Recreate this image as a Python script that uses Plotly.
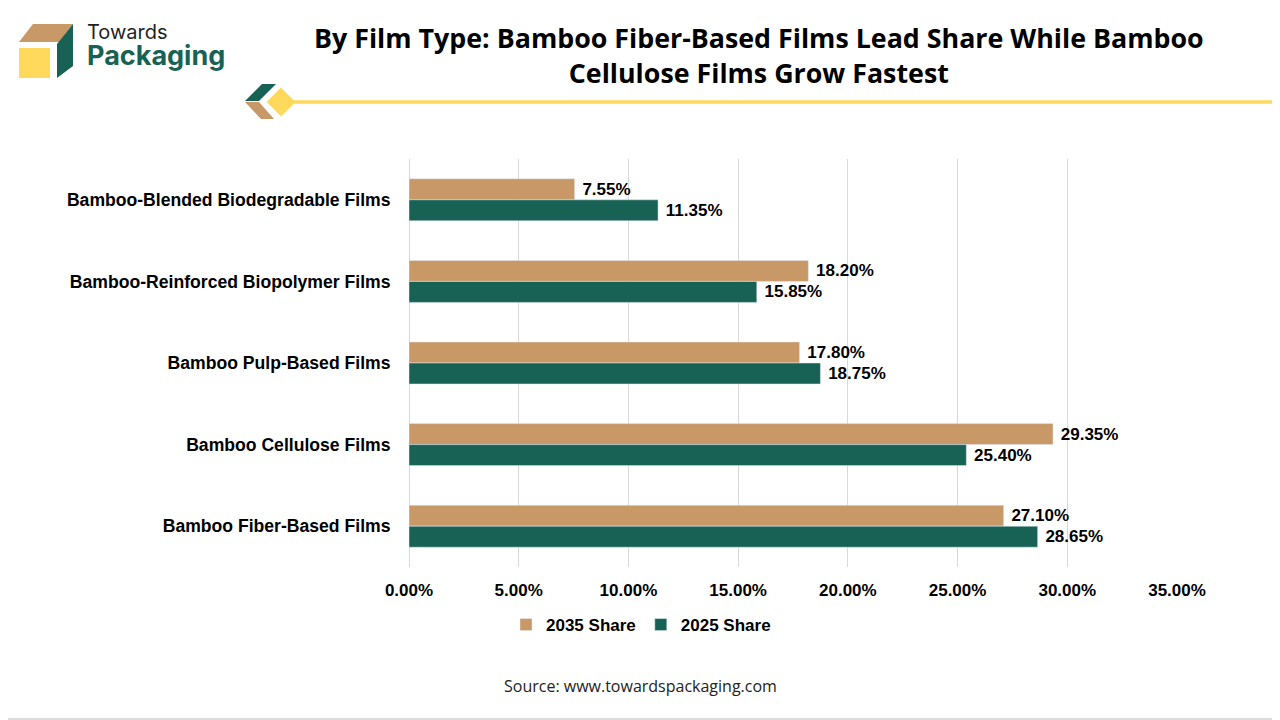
import plotly.graph_objects as go

# values
film_types = [
    "Bamboo-Blended Biodegradable Films",
    "Bamboo-Reinforced Biopolymer Films",
    "Bamboo Pulp-Based Films",
    "Bamboo Cellulose Films",
    "Bamboo Fiber-Based Films",
]
share_2035 = [7.55, 18.20, 17.80, 29.35, 27.10]
share_2025 = [11.35, 15.85, 18.75, 25.40, 28.65]
x_ticks = [0, 5, 10, 15, 20, 25, 30, 35]
x_tick_labels = [f"{v:.2f}%" for v in x_ticks]

# the page body has an 8px margin, so the figure is made 8px smaller
# and all layout positions below are given in page pixels
OFF = 8
W, H = 1280 - OFF, 720 - OFF
TAN = "#C89866"
TEAL = "#176255"
YELLOW = "#FED95B"
FONT = "Liberation Sans"


def px(x):
    return (x - OFF) / W


def py(y):
    return 1 - (y - OFF) / H


def path(points):
    # page pixel points -> paper path
    return "M " + " L ".join(f"{px(x):.5f},{py(y):.5f}" for x, y in points) + " Z"


fig = go.Figure()

label_font = dict(family=FONT, size=17, color="black", weight="bold")
fig.add_trace(go.Bar(
    y=film_types, x=share_2035, orientation="h", name="2035 Share",
    marker_color=TAN,
    text=[f"\u00a0{v:.2f}%" for v in share_2035], textposition="outside",
    textfont=label_font, cliponaxis=False,
))
fig.add_trace(go.Bar(
    y=film_types, x=share_2025, orientation="h", name="2025 Share",
    marker_color=TEAL,
    text=[f"\u00a0{v:.2f}%" for v in share_2025], textposition="outside",
    textfont=label_font, cliponaxis=False,
))

shapes = [
    # right and bottom edge of the frame
    dict(type="line", xref="paper", yref="paper", x0=px(1278.5), x1=px(1278.5),
         y0=py(719), y1=1, line=dict(color="#D0D0D0", width=1.5)),
    dict(type="line", xref="paper", yref="paper", x0=0, x1=px(1279),
         y0=py(719), y1=py(719), line=dict(color="#D0D0D0", width=1.5)),
    # logo cube
    dict(type="path", xref="paper", yref="paper",
         path=path([(33, 24), (73, 24), (59, 42), (19, 42)]),
         fillcolor=TAN, line=dict(width=0)),
    dict(type="path", xref="paper", yref="paper",
         path=path([(73, 24), (73, 66), (57, 78), (57, 44)]),
         fillcolor=TEAL, line=dict(width=0)),
    dict(type="path", xref="paper", yref="paper",
         path=path([(19, 48), (50, 48), (50, 78), (19, 78)]),
         fillcolor=YELLOW, line=dict(width=0)),
    # header rule
    dict(type="line", xref="paper", yref="paper",
         x0=px(288), x1=px(1280), y0=py(102), y1=py(102),
         line=dict(color=YELLOW, width=3.5)),
    dict(type="path", xref="paper", yref="paper",
         path=path([(245, 101), (262, 84), (276, 84), (259, 101)]),
         fillcolor=TEAL, line=dict(width=0)),
    dict(type="path", xref="paper", yref="paper",
         path=path([(245, 102), (259, 102), (274, 119), (261, 119)]),
         fillcolor=TAN, line=dict(width=0)),
    dict(type="path", xref="paper", yref="paper",
         path=path([(281, 89), (294, 102), (281, 115), (268, 102)]),
         fillcolor=YELLOW, line=dict(color=YELLOW, width=2)),
]

annotations = [
    dict(text=("Towards<br><span style='font-size:27px;color:" + TEAL + "'>"
               "<b>Packaging</b></span>"),
         x=px(85), y=py(46), xref="paper", yref="paper", align="left",
         xanchor="left", yanchor="middle", showarrow=False,
         font=dict(family="Inter", size=20, color="#1f1f1f")),
    dict(text="<b>By Film Type: Bamboo Fiber-Based Films Lead Share While Bamboo"
              "<br>Cellulose Films Grow Fastest</b>",
         x=px(759), y=py(55), xref="paper", yref="paper",
         xanchor="center", yanchor="middle", showarrow=False,
         font=dict(family="Open Sans", size=26.8, color="black")),
    dict(text="Source: www.towardspackaging.com", x=px(640), y=py(686),
         xref="paper", yref="paper", xanchor="center", yanchor="middle",
         showarrow=False, font=dict(family="Open Sans", size=16, color="#222")),
]

fig.update_layout(
    width=W, height=H,
    margin=dict(l=0, r=0, t=0, b=0),
    paper_bgcolor="white", plot_bgcolor="white",
    barmode="group", bargap=0.485, bargroupgap=0,
    font=dict(family=FONT, color="black"),
    showlegend=True,
    legend=dict(orientation="h", x=px(641), y=py(625), xanchor="center",
                yanchor="middle", font=dict(family=FONT, size=17, weight="bold"),
                itemwidth=30, traceorder="normal"),
    xaxis=dict(
        domain=[px(409), px(1177)], range=[0, 35],
        tickvals=x_ticks, ticktext=x_tick_labels,
        showgrid=True, gridcolor="#D9D9D9", gridwidth=1,
        zeroline=True, zerolinecolor="#D9D9D9", zerolinewidth=1,
        showline=False, ticks="outside", ticklen=8, tickcolor="rgba(0,0,0,0)",
        tickfont=dict(family=FONT, size=17, weight="bold", color="black"),
        automargin=False, fixedrange=True,
    ),
    yaxis=dict(
        domain=[py(567), py(159)], autorange="reversed",
        showgrid=False, showline=False, zeroline=False,
        ticks="outside", ticklen=14, tickcolor="rgba(0,0,0,0)",
        tickfont=dict(family=FONT, size=17.6, weight="bold", color="black"),
        automargin=False, fixedrange=True,
    ),
    shapes=shapes,
    annotations=annotations,
)

fig.write_html("out.html")
